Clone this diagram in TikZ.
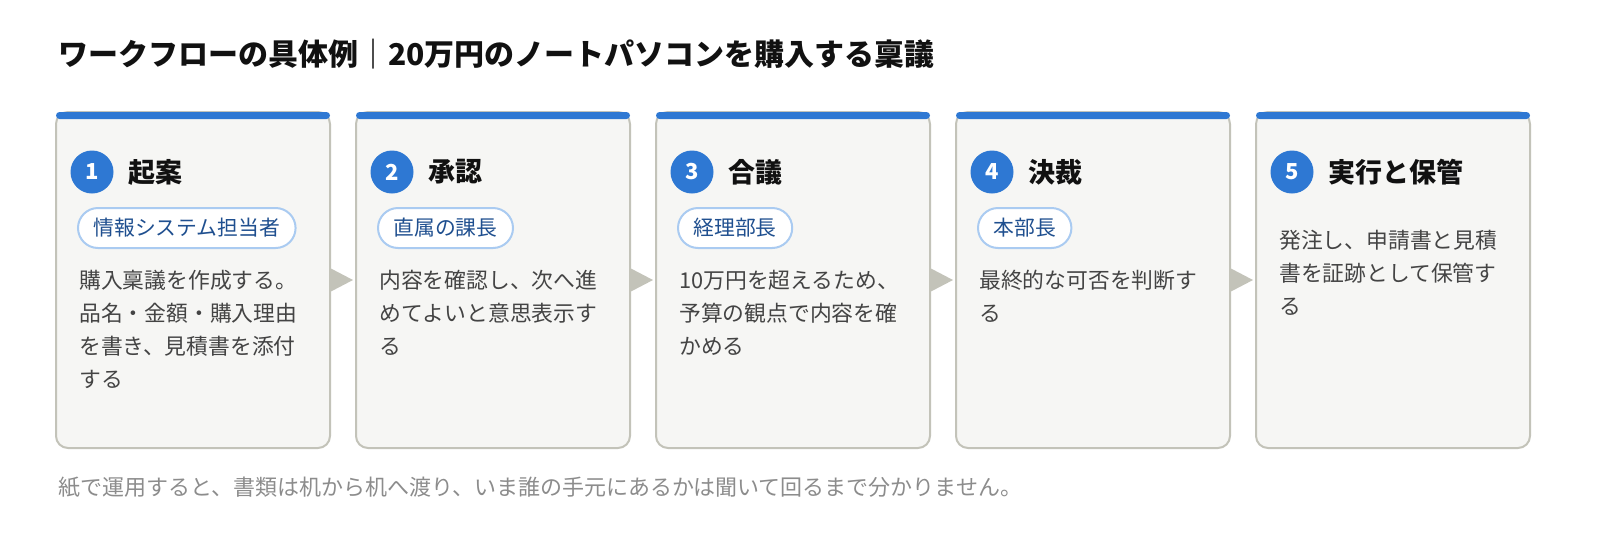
\documentclass[tikz,border=0pt]{standalone}
\usepackage{fontspec}
\setmainfont{Noto Sans CJK JP}
\definecolor{accent}{HTML}{2E78D3}
\definecolor{boxline}{HTML}{C3C3B9}
\definecolor{boxfill}{HTML}{F6F6F4}
\definecolor{pillline}{HTML}{AACBF1}
\definecolor{pilltext}{HTML}{1F4F8F}
\definecolor{bodyc}{HTML}{444444}
\definecolor{titlec}{HTML}{111111}
\definecolor{notec}{HTML}{8C8C8C}
\begin{document}
\begin{tikzpicture}[x=1pt,y=-1pt,
  stepbox/.style={draw=boxline, line width=2pt, fill=boxfill, rounded corners=12pt, minimum width=274pt, minimum height=336pt, inner sep=0pt},
  num/.style={circle, fill=accent, minimum size=43pt, inner sep=0pt, text=white, font=\bfseries\fontsize{22}{22}\selectfont},
  steptitle/.style={anchor=west, inner sep=0pt, font=\bfseries\fontsize{27}{27}\selectfont, text=titlec},
  role/.style={draw=pillline, line width=2pt, fill=white, rounded corners=20pt, minimum height=40pt, inner xsep=15.5pt, inner ysep=0pt, anchor=west, text=pilltext, font=\fontsize{20.8}{20.8}\selectfont},
  body/.style={anchor=north west, inner sep=0pt, align=left, text=bodyc, font=\fontsize{21.8}{33}\selectfont},
  flow/.style={fill=boxline},
  bar/.style={fill=accent, rounded corners=3.5pt}
]
\useasboundingbox (0,0) rectangle (1600,536);

% title
\node[anchor=west, inner sep=0pt, text=titlec, font=\bfseries\fontsize{30}{30}\selectfont] (title) at (58,54) {ワークフローの具体例｜20万円のノートパソコンを購入する稟議};

% boxes
\node[stepbox] (s1) at (193,280) {};
\node[stepbox] (s2) at (493,280) {};
\node[stepbox] (s3) at (793,280) {};
\node[stepbox] (s4) at (1093,280) {};
\node[stepbox] (s5) at (1393,280) {};

\foreach \s in {s1,s2,s3,s4,s5}{
  \fill[bar] ([xshift=1pt,yshift=-1pt]\s.north west) rectangle ([xshift=-1pt,yshift=-8pt]\s.north east);
}

% arrows
\foreach \a in {s1,s2,s3,s4}{
  \fill[flow] (\a.east) ++(-1,-12) -- ++(23,12) -- ++(-23,12) -- cycle;
}

% step 1
\node[num] (n1) at (92,172) {1};
\node[steptitle] (t1) at (128,172) {起案};
\node[role] (r1) at (77,228) {情報システム担当者};
\node[body] (b1) at (79,268) {\rule{0pt}{20pt}購入稟議を作成する。\\品名・金額・購入理由\\を書き、見積書を添付\\する};

% step 2
\node[num] (n2) at (392,172) {2};
\node[steptitle] (t2) at (428,172) {承認};
\node[role] (r2) at (377,228) {直属の課長};
\node[body] (b2) at (379,268) {\rule{0pt}{20pt}内容を確認し、次へ進\\めてよいと意思表示す\\る};

% step 3
\node[num] (n3) at (692,172) {3};
\node[steptitle] (t3) at (728,172) {合議};
\node[role] (r3) at (677,228) {経理部長};
\node[body] (b3) at (679,268) {\rule{0pt}{20pt}10万円を超えるため、\\予算の観点で内容を確\\かめる};

% step 4
\node[num] (n4) at (992,172) {4};
\node[steptitle] (t4) at (1028,172) {決裁};
\node[role] (r4) at (977,228) {本部長};
\node[body] (b4) at (979,268) {\rule{0pt}{20pt}最終的な可否を判断す\\る};

% step 5
\node[num] (n5) at (1292,172) {5};
\node[steptitle] (t5) at (1328,172) {実行と保管};
\node[body] (b5) at (1279,228) {\rule{0pt}{20pt}発注し、申請書と見積\\書を証跡として保管す\\る};

% note
\node[anchor=west, inner sep=0pt, text=notec, font=\fontsize{22}{22}\selectfont] (note) at (58,487) {紙で運用すると、書類は机から机へ渡り、いま誰の手元にあるかは聞いて回るまで分かりません。};
\end{tikzpicture}
\end{document}
